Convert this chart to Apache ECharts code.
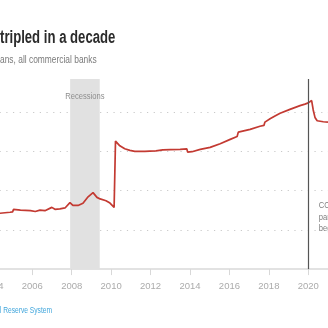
<!DOCTYPE html>
<html>
<head>
<meta charset="utf-8">
<script src="https://cdn.jsdelivr.net/npm/echarts@6/dist/echarts.min.js"></script>
<style>
  html, body { margin: 0; padding: 0; background: #fff; }
  #chart { width: 328px; height: 328px; }
</style>
</head>
<body>
<div id="chart"></div>
<script>
// Loans outstanding, billions of dollars, by decimal year
const years = [
  2004.00, 2004.36, 2004.87, 2005.00, 2005.05, 2005.40, 2005.91, 2006.15, 2006.39, 2006.64,
  2006.99, 2007.15, 2007.40, 2007.66, 2007.91, 2008.06, 2008.32, 2008.57, 2008.83, 2009.08,
  2009.28, 2009.44, 2009.74, 2009.94, 2010.15, 2010.20, 2010.22, 2010.44, 2010.69, 2010.95,
  2011.20, 2011.71, 2011.96, 2012.27, 2012.33, 2012.62, 2013.00, 2013.50, 2013.84, 2013.88,
  2014.10, 2014.52, 2015.02, 2015.53, 2016.04, 2016.39, 2016.45, 2016.54, 2017.05, 2017.55,
  2017.75, 2017.80, 2018.06, 2018.31, 2018.57, 2019.07, 2019.58, 2019.83, 2020.00, 2020.09,
  2020.17, 2020.25, 2020.34, 2020.45, 2020.76, 2021.00
];
const loans = [
  280, 285, 290, 292, 305, 301, 298, 294, 301, 298,
  315, 305, 307, 312, 339, 325, 325, 336, 369, 390,
  366, 358, 349, 337, 315, 313, 653, 629, 614, 606,
  601, 601, 602, 603, 609, 608, 610, 611, 613, 597,
  599, 611, 621, 640, 662, 677, 699, 703, 713, 729,
  733, 750, 767, 781, 795, 815, 834, 842, 848, 852,
  860, 812, 774, 757, 752, 750
];

// Shaded recession period and the pandemic marker
const recession = [2007.92, 2009.42];
const covidStart = 2020.02;

// Axis settings
const xMin = 2004, xMax = 2021, xStep = 2;
const yMin = 0, yMax = 970, yStep = 200;

const sans = '"Liberation Sans", Arial, sans-serif';

const chart = echarts.init(document.getElementById('chart'), null, { renderer: 'canvas' });

chart.setOption({
  animation: false,
  backgroundColor: '#ffffff',
  grid: {
    left: -7.12, right: 0, top: 79, bottom: 58.9,
    containLabel: false, outerBoundsMode: 'none'
  },
  xAxis: {
    type: 'value',
    min: xMin, max: xMax, interval: xStep,
    axisLine: { show: true, lineStyle: { color: '#e2e2e2', width: 2 } },
    axisTick: { show: true, length: 6, lineStyle: { color: '#d8d8d8', width: 1 } },
    axisLabel: {
      show: true, margin: 12, color: '#ababab', fontSize: 9.5, fontFamily: sans,
      showMaxLabel: false, hideOverlap: false,
      formatter: v => (Math.round(v) % 2 === 0 ? String(Math.round(v)) : '')
    },
    splitLine: { show: false }
  },
  yAxis: {
    type: 'value',
    min: yMin, max: yMax, interval: yStep,
    axisLine: { show: false },
    axisTick: { show: false },
    axisLabel: { show: false },
    splitLine: {
      show: true, showMinLine: false, showMaxLine: false,
      lineStyle: { color: '#c9c9c9', width: 1.2, type: [1.2, 5.5] }
    }
  },
  series: [{
    type: 'line',
    data: years.map((y, i) => [y, loans[i]]),
    showSymbol: false,
    smooth: false,
    lineStyle: { color: '#c33a32', width: 1.7 },
    z: 3,
    markArea: {
      silent: true,
      itemStyle: { color: '#e1e1e1' },
      label: { show: false },
      data: [[{ xAxis: recession[0] }, { xAxis: recession[1] }]]
    },
    markLine: {
      silent: true,
      symbol: ['none', 'none'],
      label: { show: false },
      lineStyle: { color: '#555555', width: 1.2, type: 'solid' },
      data: [{ xAxis: covidStart }]
    }
  }]
});

// Annotations anchored to the axis scale
const recMid = chart.convertToPixel({ gridIndex: 0 }, [(recession[0] + recession[1]) / 2, 0])[0];
const covidX = chart.convertToPixel({ gridIndex: 0 }, [covidStart, 0])[0];

chart.setOption({
  graphic: [
    {
      type: 'text', x: 0, y: 29.5, scaleX: 0.73, z: 100,
      style: { text: 'tripled in a decade', font: 'bold 18px ' + sans, fill: '#2b2b2b', textVerticalAlign: 'top' }
    },
    {
      type: 'text', x: 0, y: 55, scaleX: 0.8, z: 100,
      style: { text: 'ans, all commercial banks', font: '10.5px ' + sans, fill: '#7a7a7a', textVerticalAlign: 'top' }
    },
    {
      type: 'text', x: recMid, y: 91, scaleX: 0.8, z: 100,
      style: { text: 'Recessions', font: '9.5px ' + sans, fill: '#8d8d8d', textAlign: 'center', textVerticalAlign: 'top' }
    },
    {
      type: 'text', x: covidX + 10, y: 200, scaleX: 0.8, z: 100,
      style: {
        text: 'COVID-19\npandemic\nbegins', font: '9.5px ' + sans, lineHeight: 11.4,
        fill: '#808080', textVerticalAlign: 'top'
      }
    },
    {
      type: 'text', x: 52, y: 306, scaleX: 0.74, z: 100,
      style: { text: 'Federal Reserve System', font: '9px ' + sans, fill: '#41a6dc', textAlign: 'right', textVerticalAlign: 'top' }
    }
  ]
});
</script>
</body>
</html>
